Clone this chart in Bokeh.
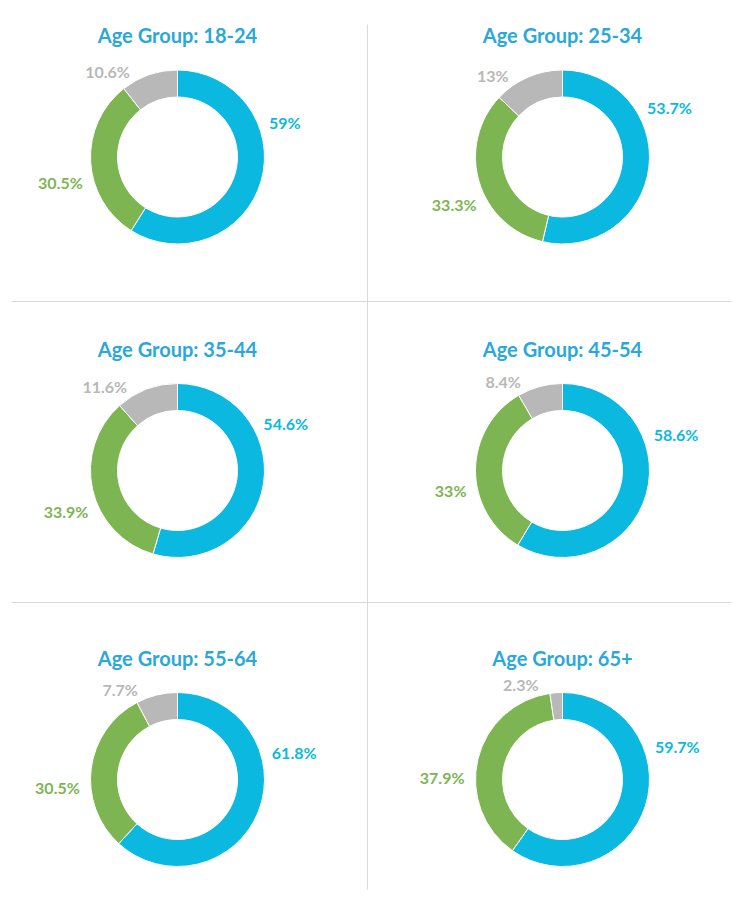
import math
from bokeh.plotting import figure
from bokeh.models import Range1d, ColumnDataSource
from bokeh.core.properties import value
from bokeh.embed import file_html
from bokeh.resources import INLINE

# ---------------- data ----------------
groups = ["18-24", "25-34", "35-44", "45-54", "55-64", "65+"]
share_a = [59.0, 53.7, 54.6, 58.6, 61.8, 59.7]   # blue
share_b = [30.5, 33.3, 33.9, 33.0, 30.5, 37.9]   # green
share_c = [10.6, 13.0, 11.6, 8.4, 7.7, 2.3]      # grey

# ---------------- style / layout ----------------
FW, FH = 732, 900          # figure size in px (page origin at 0,0)
COLORS = ["#0BB8E0", "#7DB553", "#B8B8B8"]
TITLE_COLOR = "#29A8D9"
GRID_COLOR = "#D9D9D9"
FONT = "Lato"
R_OUT, R_IN = 87, 60
LABEL_R = 98
LABEL_SHIFT = [-37, -12, -10]     # degrees, label drift per series
COL_X = [177, 562]
ROW_Y = [156.5, 470, 779]
TITLE_DY = 122


def Y(py):
    return FH - py


p = figure(width=FW, height=FH, output_backend="svg",
           toolbar_location=None, x_range=Range1d(0, FW),
           y_range=Range1d(0, FH), min_border=0)
p.axis.visible = False
p.grid.visible = False
p.outline_line_color = None
p.background_fill_color = "white"

# separators
p.segment(x0=[367], y0=[Y(24)], x1=[367], y1=[Y(889)],
          line_color=GRID_COLOR, line_width=1)
p.segment(x0=[11, 11], y0=[Y(301), Y(602)], x1=[731, 731],
          y1=[Y(301), Y(602)], line_color=GRID_COLOR, line_width=1)

wx, wy, ws, we, wc = [], [], [], [], []
lx, ly, lt, lc, la = [], [], [], [], []
tx, ty, tt = [], [], []

for i, g in enumerate(groups):
    cx = COL_X[i % 2]
    cy = Y(ROW_Y[i // 2])
    vals = [share_a[i], share_b[i], share_c[i]]
    tot = sum(vals)
    cum = 0.0
    for k, v in enumerate(vals):
        f0 = cum / tot
        f1 = (cum + v) / tot
        cum += v
        wx.append(cx)
        wy.append(cy)
        ws.append(math.pi / 2 - 2 * math.pi * f0)
        we.append(math.pi / 2 - 2 * math.pi * f1)
        wc.append(COLORS[k])
        th = math.radians(360 * (f0 + f1) / 2 + LABEL_SHIFT[k])
        dx = LABEL_R * math.sin(th)
        dy = LABEL_R * math.cos(th)
        lx.append(cx + dx)
        ly.append(cy + dy)
        lt.append(f"{v:g}%")
        lc.append(COLORS[k])
        la.append("left" if dx >= 0 else "right")
    tx.append(cx)
    ty.append(cy + TITLE_DY)
    tt.append(f"Age Group: {g}")

wsrc = ColumnDataSource(dict(x=wx, y=wy, s=ws, e=we, c=wc))
p.annular_wedge(x="x", y="y", inner_radius=R_IN, outer_radius=R_OUT,
                start_angle="s", end_angle="e", direction="clock",
                fill_color="c", line_color="white", line_width=1,
                source=wsrc)

lsrc = ColumnDataSource(dict(x=lx, y=ly, t=lt, c=lc, a=la))
p.text(x="x", y="y", text="t", text_color="c", text_align="a",
       text_baseline="middle", text_font=value(FONT), text_font_style="bold",
       text_font_size="16px", source=lsrc)

tsrc = ColumnDataSource(dict(x=tx, y=ty, t=tt))
p.text(x="x", y="y", text="t", text_color=TITLE_COLOR, text_align="center",
       text_baseline="middle", text_font=value(FONT), text_font_style="bold",
       text_font_size="20px", source=tsrc)

open("out.html", "w").write(file_html(p, INLINE))
